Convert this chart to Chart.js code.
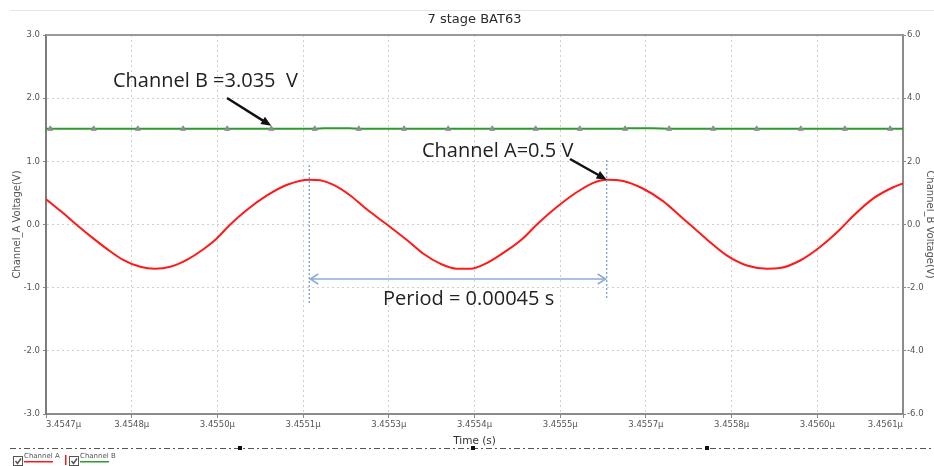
<!DOCTYPE html>
<html lang="en">
<head>
    <meta charset="UTF-8">
    <title>7 stage BAT63</title>
    <script src="https://cdn.jsdelivr.net/npm/chart.js"></script>
    <style>
        body { margin: 0; background: #fff; }
        #chart { display: block; }
    </style>
</head>
<body>
    <canvas id="chart" width="934" height="466"></canvas>

    <script>
        // x axis (time) ticks and labels
        const xTickValues = [3.4547, 3.45484, 3.45498, 3.45512, 3.45526, 3.4554, 3.45554, 3.45568, 3.45582, 3.45596, 3.4561];
        const xTickLabels = ['3.4547µ', '3.4548µ', '3.4550µ', '3.4551µ', '3.4553µ', '3.4554µ', '3.4555µ', '3.4557µ', '3.4558µ', '3.4560µ', '3.4561µ'];

        // Channel A (left axis)
        const redTimes = [3.454700, 3.454723, 3.454747, 3.454772, 3.454800, 3.454826, 3.454854, 3.454878, 3.454903, 3.454930,
                          3.454956, 3.454979, 3.455001, 3.455028, 3.455061, 3.455094, 3.455130, 3.455148, 3.455169, 3.455197,
                          3.455224, 3.455257, 3.455290, 3.455316, 3.455344, 3.455371, 3.455393, 3.455420, 3.455453, 3.455479,
                          3.455502, 3.455535, 3.455567, 3.455594, 3.455616, 3.455643, 3.455675, 3.455708, 3.455741, 3.455752,
                          3.455780, 3.455812, 3.455845, 3.455878, 3.455899, 3.455932, 3.455964, 3.455997, 3.456018, 3.456051,
                          3.456084, 3.456100];
        const redValues = [0.40, 0.22, 0.02, -0.18, -0.39, -0.56, -0.67, -0.70, -0.67, -0.56,
                           -0.40, -0.22, 0.00, 0.23, 0.46, 0.63, 0.71, 0.70, 0.63, 0.46,
                           0.24, 0.00, -0.25, -0.46, -0.62, -0.70, -0.70, -0.61, -0.41, -0.22,
                           0.00, 0.28, 0.51, 0.66, 0.71, 0.69, 0.57, 0.37, 0.09, 0.00,
                           -0.24, -0.49, -0.65, -0.70, -0.69, -0.57, -0.36, -0.08, 0.13, 0.41,
                           0.59, 0.65];

        // Channel B (right axis)
        const greenTimes = [3.454700, 3.454707, 3.454778, 3.454850, 3.454924, 3.454996, 3.455068, 3.455139, 3.455155, 3.455195,
                            3.455211, 3.455285, 3.455357, 3.455429, 3.455500, 3.455572, 3.455646, 3.455650, 3.455690, 3.455718,
                            3.455790, 3.455861, 3.455933, 3.456005, 3.456079, 3.456100];
        const greenValues = [3.03, 3.03, 3.03, 3.03, 3.03, 3.03, 3.03, 3.03, 3.05, 3.05,
                             3.03, 3.03, 3.03, 3.03, 3.03, 3.03, 3.03, 3.05, 3.05, 3.03,
                             3.03, 3.03, 3.03, 3.03, 3.03, 3.03];
        const greenMarkers = [3.454707, 3.454778, 3.454850, 3.454924, 3.454996, 3.455068, 3.455139, 3.455211, 3.455285, 3.455357,
                              3.455429, 3.455500, 3.455572, 3.455646, 3.455718, 3.455790, 3.455861, 3.455933, 3.456005, 3.456079];

        // the two peaks used for the period marker
        const peakTimes = [3.455130, 3.455616];

        const tickFont = { family: 'DejaVu Sans', size: 8.5 };
        const titleFont = { family: 'DejaVu Sans', size: 10 };

        function drawArrow(ctx, x1, y1, x2, y2) {
            const ang = Math.atan2(y2 - y1, x2 - x1);
            ctx.strokeStyle = '#111';
            ctx.fillStyle = '#111';
            ctx.lineWidth = 2.5;
            ctx.beginPath();
            ctx.moveTo(x1, y1);
            ctx.lineTo(x2 - 7 * Math.cos(ang), y2 - 7 * Math.sin(ang));
            ctx.stroke();
            ctx.beginPath();
            ctx.moveTo(x2, y2);
            ctx.lineTo(x2 - 11 * Math.cos(ang - 0.4), y2 - 11 * Math.sin(ang - 0.4));
            ctx.lineTo(x2 - 11 * Math.cos(ang + 0.4), y2 - 11 * Math.sin(ang + 0.4));
            ctx.closePath();
            ctx.fill();
        }

        function checkbox(ctx, x, y) {
            ctx.strokeStyle = '#555';
            ctx.lineWidth = 1;
            ctx.strokeRect(x + 0.5, y + 0.5, 9, 9);
            ctx.beginPath();
            ctx.moveTo(x + 2.5, y + 5);
            ctx.lineTo(x + 4.5, y + 7.5);
            ctx.lineTo(x + 8, y + 2.5);
            ctx.lineWidth = 1.5;
            ctx.stroke();
        }

        const extras = {
            id: 'extras',
            afterDraw(chart) {
                const { ctx, chartArea: a, scales } = chart;
                const x = scales.x, y = scales.y, y2 = scales.y2;
                ctx.save();

                // top rule and title
                ctx.fillStyle = '#e6e6e6';
                ctx.fillRect(10, 10, 924, 1);
                ctx.fillStyle = '#2a2a2a';
                ctx.font = '13px "DejaVu Sans"';
                ctx.textAlign = 'center';
                ctx.textBaseline = 'middle';
                ctx.fillText('7 stage BAT63', (a.left + a.right) / 2, 20);

                // top border of the plot
                ctx.strokeStyle = '#999';
                ctx.lineWidth = 2;
                ctx.beginPath();
                ctx.moveTo(a.left, a.top);
                ctx.lineTo(a.right, a.top);
                ctx.stroke();

                // period markers
                const px1 = x.getPixelForValue(peakTimes[0]);
                const px2 = x.getPixelForValue(peakTimes[1]);
                ctx.strokeStyle = '#6f9bd1';
                ctx.lineWidth = 1.2;
                ctx.setLineDash([2, 2]);
                ctx.beginPath();
                ctx.moveTo(px1, 165); ctx.lineTo(px1, 304);
                ctx.moveTo(px2, 160); ctx.lineTo(px2, 300);
                ctx.stroke();
                ctx.setLineDash([]);

                const py = 279;
                ctx.strokeStyle = '#8eaadb';
                ctx.lineWidth = 1.5;
                ctx.beginPath();
                ctx.moveTo(px1 + 1, py); ctx.lineTo(px2 - 1, py);
                ctx.moveTo(px1 + 9, py - 5); ctx.lineTo(px1 + 1, py); ctx.lineTo(px1 + 9, py + 5);
                ctx.moveTo(px2 - 9, py - 5); ctx.lineTo(px2 - 1, py); ctx.lineTo(px2 - 9, py + 5);
                ctx.stroke();

                // annotations
                ctx.fillStyle = '#222';
                ctx.textAlign = 'left';
                ctx.textBaseline = 'alphabetic';
                ctx.font = '20px "Open Sans"';
                ctx.fillText('Channel B =3.035  V', 113, 87);
                ctx.fillText('Channel A=0.5 V', 422, 157);
                ctx.fillText('Period = 0.00045 s', 383, 305);

                drawArrow(ctx, 227, 98, x.getPixelForValue(greenMarkers[5]), y2.getPixelForValue(greenValues[6]) - 3);
                drawArrow(ctx, 570, 159, px2, y.getPixelForValue(0.71));

                // bottom dash-dot rule
                ctx.strokeStyle = '#555';
                ctx.lineWidth = 1;
                ctx.setLineDash([6, 3, 2, 3]);
                ctx.beginPath();
                ctx.moveTo(10, 448.5); ctx.lineTo(934, 448.5);
                ctx.stroke();
                ctx.setLineDash([]);
                ctx.fillStyle = '#111';
                [240, 473, 707].forEach(sx => ctx.fillRect(sx - 2, 446, 4, 4));

                // legend
                const ds = chart.data.datasets;
                checkbox(ctx, 13, 456);
                checkbox(ctx, 69, 456);
                ctx.font = '7px "DejaVu Sans"';
                ctx.fillStyle = '#555';
                ctx.fillText(ds[0].label, 24, 458);
                ctx.fillText(ds[1].label, 80, 458);
                ctx.fillStyle = ds[0].borderColor;
                ctx.fillRect(24, 461, 29, 1.5);
                ctx.fillRect(65, 455, 1.5, 10);
                ctx.fillStyle = ds[1].borderColor;
                ctx.fillRect(80, 461, 29, 1.5);

                ctx.restore();
            }
        };

        new Chart(document.getElementById('chart'), {
            type: 'line',
            data: {
                datasets: [{
                    label: 'Channel A',
                    data: redTimes.map((t, i) => ({ x: t, y: redValues[i] })),
                    yAxisID: 'y',
                    borderColor: '#ff1a1a',
                    borderWidth: 2,
                    pointRadius: 0,
                    cubicInterpolationMode: 'monotone',
                }, {
                    label: 'Channel B',
                    data: greenTimes.map((t, i) => ({ x: t, y: greenValues[i] })),
                    yAxisID: 'y2',
                    borderColor: '#2e9a2e',
                    borderWidth: 2,
                    pointStyle: 'triangle',
                    pointRadius: c => greenMarkers.includes(greenTimes[c.dataIndex]) ? 3 : 0,
                    pointBackgroundColor: '#8c8c8c',
                    pointBorderColor: '#8c8c8c',
                    pointBorderWidth: 1,
                }]
            },
            options: {
                responsive: false,
                animation: false,
                layout: { padding: { top: 35, left: 0, right: 0, bottom: 0 } },
                plugins: {
                    legend: { display: false },
                    tooltip: { enabled: false },
                },
                scales: {
                    x: {
                        type: 'linear',
                        min: 3.4547,
                        max: 3.4561,
                        afterBuildTicks: s => { s.ticks = xTickValues.map(v => ({ value: v })); },
                        afterFit: s => { s.height = 52; },
                        ticks: {
                            font: tickFont,
                            color: '#555',
                            padding: 2,
                            maxRotation: 0,
                            autoSkip: false,
                            align: 'inner',
                            callback: (v, i) => xTickLabels[i],
                        },
                        grid: { color: '#cfcfcf', tickColor: '#888', tickLength: 4, tickBorderDash: [] },
                        border: { color: '#8c8c8c', width: 2, dash: [2, 3] },
                        title: { display: true, text: 'Time (s)', font: { family: 'DejaVu Sans', size: 10.5 }, color: '#333', padding: { top: 0, bottom: 18 } },
                    },
                    y: {
                        position: 'left',
                        min: -3,
                        max: 3,
                        afterFit: s => { s.width = 46; },
                        ticks: { stepSize: 1, font: tickFont, color: '#555', padding: 3, callback: v => v.toFixed(1) },
                        grid: { color: '#cfcfcf', tickColor: '#888', tickLength: 3, tickBorderDash: [] },
                        border: { color: '#7d7d7d', width: 2, dash: [2, 3] },
                        title: { display: true, text: 'Channel_A Voltage(V)', font: titleFont, color: '#555', padding: { top: 11, bottom: 0 } },
                    },
                    y2: {
                        position: 'right',
                        min: -6,
                        max: 6,
                        afterFit: s => { s.width = 31; },
                        ticks: { stepSize: 2, font: tickFont, color: '#555', padding: 1, callback: v => v.toFixed(1) },
                        grid: { drawOnChartArea: false, tickColor: '#888', tickLength: 3 },
                        border: { color: '#8c8c8c', width: 2 },
                        title: { display: true, text: 'Channel_B Voltage(V)', font: titleFont, color: '#555', padding: { top: -2, bottom: 0 } },
                    }
                }
            },
            plugins: [extras]
        });
    </script>
</body>
</html>
